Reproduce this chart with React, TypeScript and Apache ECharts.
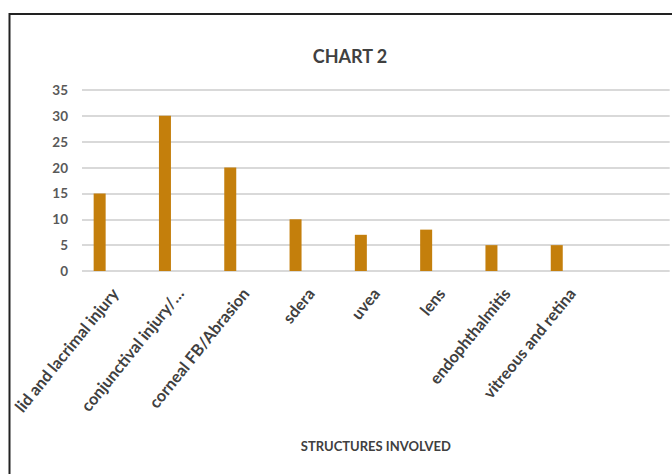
import React, { useEffect, useRef } from "react";
import * as echarts from "echarts";

// Ocular structures involved (last slot left empty, as on the axis)
const categories = [
  "lid and lacrimal injury",
  "conjunctival injury/…",
  "corneal FB/Abrasion",
  "sdera",
  "uvea",
  "lens",
  "endophthalmitis",
  "vitreous and retina",
  "",
];
const cases = [15, 30, 20, 10, 7, 8, 5, 5];
const yTicks = { min: 0, max: 35, interval: 5 };

const FONT = "Lato, 'Open Sans', sans-serif";
const BAR = "#C47F0C";
const TEXT = "#404040";

export default function App() {
  const ref = useRef<HTMLDivElement>(null);

  useEffect(() => {
    if (!ref.current) return;
    const chart = echarts.init(ref.current, null, { renderer: "svg" });
    const top = 90;
    const bottom = 203;
    chart.setOption({
      animation: false,
      backgroundColor: "#ffffff",
      title: {
        text: "CHART 2",
        left: 345,
        textAlign: "center",
        top: 42,
        textStyle: { fontFamily: FONT, fontSize: 18, fontWeight: "bold", color: TEXT },
      },
      grid: [
        // bars sit a little left of the tick centres
        { left: 67, top, bottom, width: 9 * 65.3 },
        // axes, labels and gridlines
        { left: 82, top, bottom, width: 9 * 65.3 },
      ],
      xAxis: [
        {
          type: "category",
          gridIndex: 0,
          data: categories,
          axisLine: { show: false },
          axisTick: { show: false },
          axisLabel: { show: false },
        },
        {
          type: "category",
          gridIndex: 1,
          data: categories,
          axisLine: { show: false },
          axisTick: { show: false },
          axisLabel: {
            rotate: 51,
            margin: 19,
            interval: 0,
            fontFamily: FONT,
            fontSize: 16.3,
            fontWeight: "bold",
            color: TEXT,
          },
          name: "STRUCTURES INVOLVED",
          nameLocation: "middle",
          nameGap: 168,
          nameTextStyle: { fontFamily: FONT, fontSize: 13, fontWeight: "bold", color: TEXT },
        },
      ],
      yAxis: [
        {
          type: "value",
          gridIndex: 0,
          ...yTicks,
          axisLine: { show: false },
          axisTick: { show: false },
          axisLabel: { show: false },
          splitLine: { show: false },
        },
        {
          type: "value",
          gridIndex: 1,
          ...yTicks,
          axisLine: { show: false },
          axisTick: { show: false },
          axisLabel: { margin: 14, fontFamily: FONT, fontSize: 13.5, fontWeight: "bold", color: "#595959" },
          splitLine: { lineStyle: { color: "#cdcdcd", width: 1.5 } },
        },
      ],
      series: [
        {
          type: "bar",
          xAxisIndex: 0,
          yAxisIndex: 0,
          data: cases,
          barWidth: 12,
          itemStyle: { color: BAR },
        },
      ],
      graphic: [
        {
          type: "polyline",
          shape: { points: [[9.5, 474], [9.5, 14], [672, 14]] },
          style: { stroke: "#222222", lineWidth: 2, fill: null },
        },
      ],
    });
    return () => chart.dispose();
  }, []);

  return (
    <div
      ref={ref}
      style={{ position: "fixed", left: 0, top: 0, width: 672, height: 474 }}
    />
  );
}
